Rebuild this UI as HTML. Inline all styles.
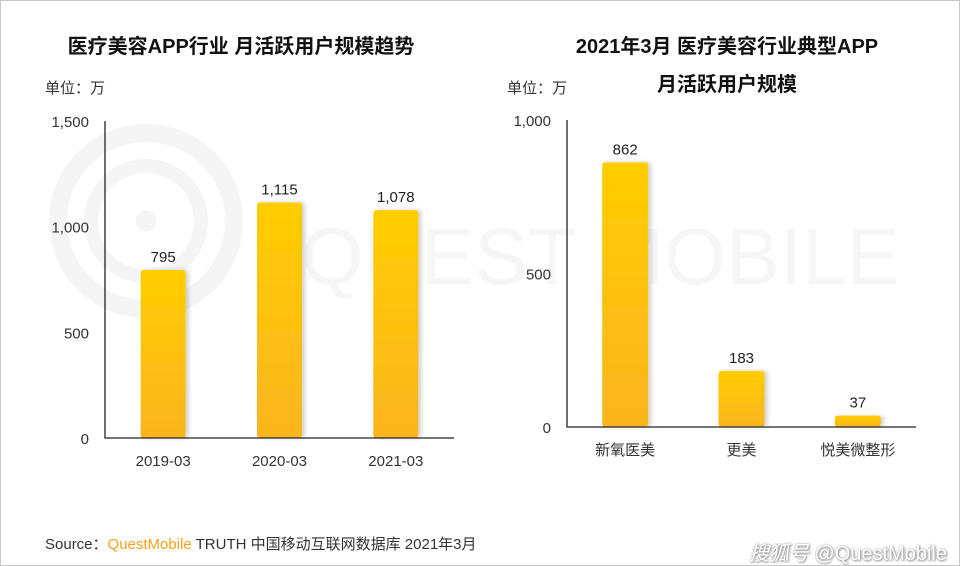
<!DOCTYPE html>
<html><head><meta charset="utf-8"><style>
body{margin:0;background:#fff;}
#wrap{position:relative;width:958px;height:564px;border:1px solid #c8c8c8;overflow:hidden;font-family:"Liberation Sans","Noto Sans CJK SC",sans-serif;}
svg text{font-family:"Liberation Sans","Noto Sans CJK SC",sans-serif;}
</style></head><body>
<div id="wrap">
<svg id="svg" width="958" height="564">
<defs>
<linearGradient id="g" x1="0" y1="0" x2="0" y2="1"><stop offset="0" stop-color="#ffcd00"/><stop offset="1" stop-color="#fbb520"/></linearGradient>
<filter id="sh" x="-20%" y="-10%" width="150%" height="120%"><feDropShadow dx="3" dy="0" stdDeviation="2" flood-color="#000" flood-opacity="0.18"/></filter>
</defs>
<g fill="none" stroke="#f5f5f5">
<circle cx="145" cy="220" r="88" stroke-width="18"/>
<circle cx="145" cy="220" r="55" stroke-width="14"/>
<circle cx="145" cy="220" r="10" fill="#f5f5f5"/>
</g>
<text x="300" y="283" font-size="80" fill="#f6f6f6">QUEST MOBILE</text>
<text x="240" y="52" font-size="20" font-weight="bold" text-anchor="middle" fill="#111">医疗美容APP行业 月活跃用户规模趋势</text>
<text x="44" y="92" font-size="15" fill="#333">单位：万</text>
<text x="726" y="52" font-size="20" font-weight="bold" text-anchor="middle" fill="#111">2021年3月 医疗美容行业典型APP</text>
<text x="726" y="90" font-size="20" font-weight="bold" text-anchor="middle" fill="#111">月活跃用户规模</text>
<text x="506" y="92" font-size="15" fill="#333">单位：万</text>
<g id="L"></g><g id="R"></g>
</svg>
<div style="position:absolute;left:44px;top:532px;font-size:15px;color:#333;">Source：<span style="color:#f7a21b">QuestMobile</span> TRUTH 中国移动互联网数据库 2021年3月</div>
<div style="position:absolute;right:12px;top:536px;font-size:20px;color:#fff;text-shadow:0 0 2px #999,1px 1px 2px #888;"><i>搜狐号</i> @QuestMobile</div>
</div>
<script>
const leftCats=["2019-03","2020-03","2021-03"];
const leftVals=[795,1115,1078];
const leftTicks=[0,500,1000,1500];
const leftTickLabels=["0","500","1,000","1,500"];
const rightCats=["新氧医美","更美","悦美微整形"];
const rightVals=[862,183,37];
const rightTicks=[0,500,1000];
const rightTickLabels=["0","500","1,000"];
const NS="http://www.w3.org/2000/svg";
function mk(p,t,a,txt){const e=document.createElementNS(NS,t);for(const k in a)e.setAttribute(k,a[k]);if(txt!==undefined)e.textContent=txt;p.appendChild(e);return e;}
function fmt(v){return v.toLocaleString('en-US');}
function draw(gid,cats,vals,ticks,tlabels,x0,x1,y0,yTop,maxV,bw,pfx){
 const g=document.getElementById(gid);
 const y=v=>y0-(v/maxV)*(y0-yTop);
 const step=(x1-x0)/cats.length;
 const x=i=>x0+step*(i+0.5);
 ticks.forEach((t,i)=>{const e=mk(g,'text',{x:x0-16,y:y(t)+6,'text-anchor':'end','font-size':15,fill:'#333'},tlabels[i]);
 
 });
 cats.forEach((c,i)=>{
  const r=mk(g,'rect',{x:x(i)-bw/2,y:y(vals[i]),width:bw,height:y0-y(vals[i]),rx:3,fill:'url(#g)',filter:'url(#sh)'});
  
  
  const l=mk(g,'text',{x:x(i),y:y(vals[i])-8,'text-anchor':'middle','font-size':15,fill:'#222'},fmt(vals[i]));
  
  
  const c2=mk(g,'text',{x:x(i),y:y0+28,'text-anchor':'middle','font-size':15,fill:'#333'},c);
  
  
 });
 const ax=mk(g,'path',{d:`M${x0},${yTop}V${y0}H${x1}`,stroke:'#222','stroke-width':1.3,fill:'none'});
 
 
}
draw('L',leftCats,leftVals,leftTicks,leftTickLabels,104,453,437,120,1500,45,'left');
draw('R',rightCats,rightVals,rightTicks,rightTickLabels,566,915,426,119,1000,46,'right');
</script>
</body></html>
